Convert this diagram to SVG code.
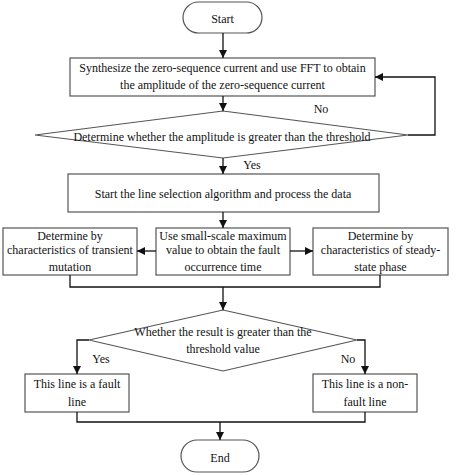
<svg xmlns="http://www.w3.org/2000/svg" width="474" height="475" viewBox="0 0 474 475">
<defs>
<marker id="ah" viewBox="0 0 10 10" refX="10" refY="5" markerWidth="8" markerHeight="8" markerUnits="userSpaceOnUse" orient="auto">
<path d="M0,0 L10,5 L0,10 z" fill="#111"/>
</marker>
<style>
.shape{fill:#fff;stroke:#555;stroke-width:1.2}
.t{font-family:"Liberation Serif","Times New Roman",serif;font-size:12px;fill:#111;text-anchor:middle}
.c{fill:none;stroke:#111;stroke-width:1.3}
</style>
</defs>
<rect width="474" height="475" fill="#fff"/>
<g id="start"><rect class="shape" x="183" y="2" width="79" height="31" rx="15.5"/><text class="t" x="222.5" y="23">Start</text></g>
<g id="synth"><rect class="shape" x="70" y="58" width="305" height="38"/><text class="t" x="222.5" y="72">Synthesize the zero-sequence current and use FFT to obtain</text><text class="t" x="222.5" y="89">the amplitude of the zero-sequence current</text></g>
<g id="dec1"><polygon class="shape" points="223,111 408,135 223,158 35,135"/><text class="t" x="222" y="141">Determine whether the amplitude is greater than the threshold</text></g>
<g id="startalg"><rect class="shape" x="68" y="174" width="311" height="38"/><text class="t" x="223" y="198">Start the line selection algorithm and process the data</text></g>
<g id="transient"><rect class="shape" x="3" y="228" width="134" height="47"/><text class="t" x="70" y="240">Determine by</text><text class="t" x="70" y="254">characteristics of transient</text><text class="t" x="70" y="271">mutation</text></g>
<g id="smallscale"><rect class="shape" x="156" y="228" width="134" height="47"/><text class="t" x="223" y="240">Use small-scale maximum</text><text class="t" x="223" y="254">value to obtain the fault</text><text class="t" x="223" y="271">occurrence time</text></g>
<g id="steady"><rect class="shape" x="313" y="228" width="135" height="47"/><text class="t" x="380.5" y="240">Determine by</text><text class="t" x="380.5" y="254">characteristics of steady-</text><text class="t" x="380.5" y="271">state phase</text></g>
<g id="dec2"><polygon class="shape" points="223,310 357,340 223,371 89,340"/><text class="t" x="223" y="336">Whether the result is greater than the</text><text class="t" x="223" y="353">threshold value</text></g>
<g id="fault"><rect class="shape" x="25" y="374" width="104" height="38"/><text class="t" x="77" y="388">This line is a fault</text><text class="t" x="77" y="406">line</text></g>
<g id="nonfault"><rect class="shape" x="313" y="374" width="104" height="38"/><text class="t" x="365" y="388">This line is a non-</text><text class="t" x="365" y="406">fault line</text></g>
<g id="end"><rect class="shape" x="181" y="440" width="78" height="32" rx="16"/><text class="t" x="220" y="462">End</text></g>
<g id="connectors">
<path class="c" d="M223,33 V58" marker-end="url(#ah)"/>
<path class="c" d="M223,96 V111" marker-end="url(#ah)"/>
<path class="c" d="M408,135 H435 V77 H375" marker-end="url(#ah)"/>
<path class="c" d="M223,158 V174" marker-end="url(#ah)"/>
<path class="c" d="M223,212 V228" marker-end="url(#ah)"/>
<path class="c" d="M156,251 H137" marker-end="url(#ah)"/>
<path class="c" d="M290,251 H313" marker-end="url(#ah)"/>
<path class="c" d="M70,275 V287 H380 V275"/>
<path class="c" d="M223,287 V310" marker-end="url(#ah)"/>
<path class="c" d="M89,340 H77 V374" marker-end="url(#ah)"/>
<path class="c" d="M357,340 H365 V374" marker-end="url(#ah)"/>
<path class="c" d="M77,412 V422 H365 V412"/>
<path class="c" d="M220,422 V440" marker-end="url(#ah)"/>
<text class="t" x="321" y="113">No</text>
<text class="t" x="252" y="169">Yes</text>
<text class="t" x="101" y="363">Yes</text>
<text class="t" x="348" y="363">No</text>
</g>
</svg>
